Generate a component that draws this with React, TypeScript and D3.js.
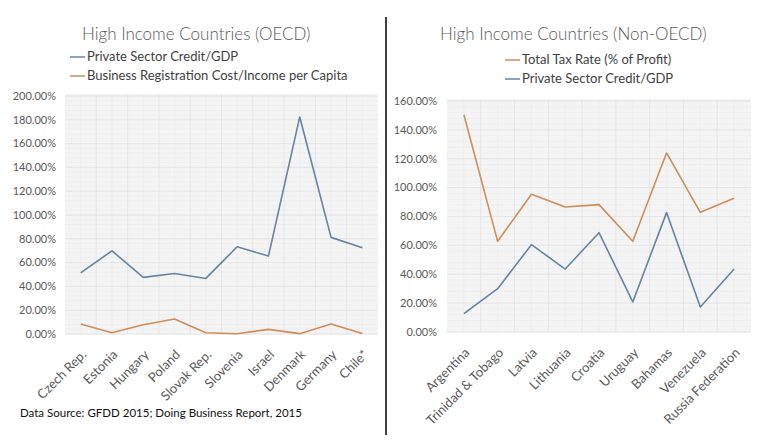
import React, { useEffect, useRef } from 'react';
import * as d3 from 'd3';

// OECD panel
const oecdCountries = ['Czech Rep.', 'Estonia', 'Hungary', 'Poland', 'Slovak Rep.', 'Slovenia', 'Israel', 'Denmark', 'Germany', 'Chile*'];
const oecdCredit = [0.514, 0.699, 0.476, 0.509, 0.467, 0.733, 0.655, 1.824, 0.812, 0.724];
const oecdRegCost = [0.084, 0.011, 0.078, 0.126, 0.011, 0.002, 0.039, 0.003, 0.084, 0.005];
const oecdTicks = [0, 0.2, 0.4, 0.6, 0.8, 1.0, 1.2, 1.4, 1.6, 1.8, 2.0];

// Non-OECD panel
const nonOecdCountries = ['Argentina', 'Trinidad & Tobago', 'Latvia', 'Lithuania', 'Croatia', 'Uruguay', 'Bahamas', 'Venezuela', 'Russia Federation'];
const nonOecdTax = [1.505, 0.628, 0.954, 0.866, 0.882, 0.628, 1.24, 0.829, 0.926];
const nonOecdCredit = [0.127, 0.30, 0.605, 0.436, 0.688, 0.208, 0.827, 0.173, 0.436];
const nonOecdTicks = [0, 0.2, 0.4, 0.6, 0.8, 1.0, 1.2, 1.4, 1.6];

const BLUE = '#6384a6';
const ORANGE = '#cf8d5a';
const FONT = 'Lato, "Open Sans", sans-serif';

type Series = { name: string; values: number[]; color: string };

function drawPanel(
  svg: d3.Selection<SVGSVGElement, unknown, null, undefined>,
  opts: {
    title: string; titleX: number;
    legend: Series[]; legendX: number; legendY: number;
    lines: Series[];
    cats: string[]; ticks: number[];
    x0: number; x1: number; y0: number; y1: number; labelX: number;
  }
) {
  const g = svg.append('g');
  const x = d3.scaleBand<string>().domain(opts.cats).range([opts.x0, opts.x1]);
  const yMax = opts.ticks[opts.ticks.length - 1];
  const y = d3.scaleLinear().domain([0, yMax]).range([opts.y1, opts.y0]);
  const fmt = d3.format('.2%');

  g.append('text')
    .attr('x', opts.titleX).attr('y', 40)
    .attr('font-family', FONT).attr('font-size', 17).attr('font-weight', 300)
    .attr('fill', '#595959')
    .text(opts.title);

  opts.legend.forEach((s, i) => {
    const ly = opts.legendY + i * 19;
    g.append('line')
      .attr('x1', opts.legendX).attr('x2', opts.legendX + 15)
      .attr('y1', ly - 4).attr('y2', ly - 4)
      .attr('stroke', s.color).attr('stroke-width', 1.5);
    g.append('text')
      .attr('x', opts.legendX + 17).attr('y', ly)
      .attr('font-family', FONT).attr('font-size', 13).attr('fill', '#404040')
      .text(s.name);
  });

  // plot area
  g.append('rect')
    .attr('x', opts.x0).attr('y', opts.y0 - 2)
    .attr('width', opts.x1 - opts.x0).attr('height', opts.y1 - opts.y0 + 2)
    .attr('fill', '#f4f4f4');

  // minor horizontal grid
  const step = opts.ticks[1] - opts.ticks[0];
  d3.range(0, yMax + 1e-9, step / 5).forEach((v) => {
    g.append('line')
      .attr('x1', opts.x0).attr('x2', opts.x1)
      .attr('y1', y(v)).attr('y2', y(v))
      .attr('stroke', '#ebebeb').attr('stroke-width', 0.6);
  });
  // minor vertical grid at category centres
  opts.cats.forEach((c) => {
    const cx = (x(c) as number) + x.bandwidth() / 2;
    g.append('line')
      .attr('x1', cx).attr('x2', cx).attr('y1', opts.y0 - 2).attr('y2', opts.y1)
      .attr('stroke', '#ebebeb').attr('stroke-width', 0.6);
  });
  // major vertical grid at boundaries
  opts.cats.slice(1).forEach((c) => {
    const bx = x(c) as number;
    g.append('line')
      .attr('x1', bx).attr('x2', bx).attr('y1', opts.y0 - 2).attr('y2', opts.y1)
      .attr('stroke', '#e2e2e2').attr('stroke-width', 0.8);
  });
  // major horizontal grid + labels
  opts.ticks.forEach((t) => {
    g.append('line')
      .attr('x1', opts.x0).attr('x2', opts.x1)
      .attr('y1', y(t)).attr('y2', y(t))
      .attr('stroke', '#e2e2e2').attr('stroke-width', 0.8);
    g.append('text')
      .attr('x', opts.labelX).attr('y', y(t)).attr('dy', '0.35em')
      .attr('text-anchor', 'end')
      .attr('font-family', FONT).attr('font-size', 11).attr('fill', '#595959')
      .text(fmt(t));
  });

  // category labels
  opts.cats.forEach((c) => {
    const cx = (x(c) as number) + x.bandwidth() / 2;
    g.append('text')
      .attr('transform', `translate(${cx},${opts.y1 + 15}) rotate(-45)`)
      .attr('dy', '0.7em')
      .attr('text-anchor', 'end')
      .attr('font-family', FONT).attr('font-size', 13).attr('fill', '#595959')
      .text(c);
  });

  const line = d3.line<number>()
    .x((_, i) => (x(opts.cats[i]) as number) + x.bandwidth() / 2)
    .y((d) => y(d));

  opts.lines.forEach((s) => {
    g.append('path')
      .attr('d', line(s.values) || '')
      .attr('fill', 'none')
      .attr('stroke', s.color)
      .attr('stroke-width', 1.6)
      .attr('stroke-linejoin', 'round');
  });
}

export default function App() {
  const ref = useRef<SVGSVGElement>(null);

  useEffect(() => {
    if (!ref.current) return;
    const svg = d3.select(ref.current);
    svg.selectAll('*').remove();

    svg.append('rect').attr('width', 770).attr('height', 443).attr('fill', '#ffffff');

    const oecdCreditS = { name: 'Private Sector Credit/GDP', values: oecdCredit, color: BLUE };
    const oecdRegS = { name: 'Business Registration Cost/Income per Capita', values: oecdRegCost, color: ORANGE };
    drawPanel(svg, {
      title: 'High Income Countries (OECD)', titleX: 82,
      legend: [oecdCreditS, oecdRegS], legendX: 70, legendY: 61,
      lines: [oecdCreditS, oecdRegS],
      cats: oecdCountries, ticks: oecdTicks,
      x0: 65, x1: 378, y0: 96, y1: 334, labelX: 56,
    });

    const taxS = { name: 'Total Tax Rate (% of Profit)', values: nonOecdTax, color: ORANGE };
    const creditS = { name: 'Private Sector Credit/GDP', values: nonOecdCredit, color: BLUE };
    drawPanel(svg, {
      title: 'High Income Countries (Non-OECD)', titleX: 440,
      legend: [taxS, creditS], legendX: 505, legendY: 64,
      lines: [taxS, creditS],
      cats: nonOecdCountries, ticks: nonOecdTicks,
      x0: 447, x1: 751, y0: 101, y1: 332, labelX: 437,
    });

    svg.append('line')
      .attr('x1', 386).attr('x2', 386).attr('y1', 17).attr('y2', 435)
      .attr('stroke', '#000').attr('stroke-width', 1.5);

    svg.append('text')
      .attr('x', 20).attr('y', 417)
      .attr('font-family', FONT).attr('font-size', 11.5).attr('fill', '#111')
      .text('Data Source: GFDD 2015; Doing Business  Report, 2015');
  }, []);

  return (
    <svg
      ref={ref}
      width={770}
      height={443}
      style={{ position: 'absolute', left: 0, top: 0, display: 'block' }}
    />
  );
}
